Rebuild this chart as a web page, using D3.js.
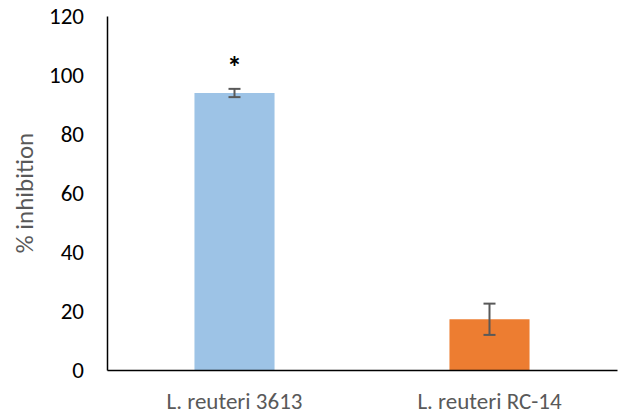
<!DOCTYPE html>
<html><head><meta charset="utf-8">
<script src="https://cdn.jsdelivr.net/npm/d3@7"></script>
<style>body{margin:0;background:#fff}svg{display:block}</style>
</head><body>
<svg id="c" width="621" height="414"></svg>
<script>
const categories = ["L. reuteri 3613", "L. reuteri RC-14"];
const values = [93.9, 17.2];
const errors = [1.4, 5.3];
const colors = ["#9DC3E6", "#ED7D31"];
const marks = ["*", ""];
const yTicks = [0, 20, 40, 60, 80, 100, 120];
const yTitle = "% inhibition";

const svg = d3.select("#c");
const font = "Carlito, Calibri, 'Open Sans', sans-serif";
const m = {l:107, r:4, t:16, b:44};
const W = 621, H = 414;
const x = d3.scaleBand().domain(categories).range([m.l, W - m.r]).paddingInner(0.686).paddingOuter(0.343);
const y = d3.scaleLinear().domain([0, 120]).range([H - m.b, m.t]);

svg.selectAll("rect.bar").data(categories).join("rect")
  .attr("x", d => x(d)).attr("width", x.bandwidth())
  .attr("y", (d,i) => y(values[i])).attr("height", (d,i) => y(0) - y(values[i]))
  .attr("fill", (d,i) => colors[i]);

const eg = svg.append("g").attr("stroke", "#595959").attr("stroke-width", 2);
categories.forEach((c,i) => {
  const cx = x(c) + x.bandwidth()/2;
  const hi = y(values[i] + errors[i]), lo = y(values[i] - errors[i]);
  eg.append("line").attr("x1", cx).attr("x2", cx).attr("y1", hi).attr("y2", lo);
  eg.append("line").attr("x1", cx-6).attr("x2", cx+6).attr("y1", hi).attr("y2", hi);
  eg.append("line").attr("x1", cx-6).attr("x2", cx+6).attr("y1", lo).attr("y2", lo);
  if (marks[i]) {
    svg.append("text").attr("x", cx).attr("y", y(values[i] + errors[i]) - 12)
      .attr("text-anchor", "middle").attr("font-family", font).attr("font-size", 30)
      .attr("font-weight", "bold").attr("fill", "#000").text(marks[i]);
  }
});

const ya = svg.append("g").attr("transform", `translate(${m.l},0)`)
  .call(d3.axisLeft(y).tickValues(yTicks).tickSize(0).tickPadding(23));
ya.select(".domain").attr("stroke", "#000").attr("stroke-width", 1.5);
ya.selectAll("text").attr("font-family", font).attr("font-size", 23).attr("fill", "#000");

const xa = svg.append("g").attr("transform", `translate(0,${y(0)})`)
  .call(d3.axisBottom(x).tickSize(0).tickPadding(23));
xa.select(".domain").attr("stroke", "#000").attr("stroke-width", 1.5);
xa.selectAll("text").attr("font-family", font).attr("font-size", 23).attr("fill", "#595959");

svg.append("text").attr("transform", `translate(33,${(y(0)+y(120))/2}) rotate(-90)`)
  .attr("text-anchor", "middle").attr("font-family", font).attr("font-size", 25)
  .attr("fill", "#595959").text(yTitle);
</script>
</body></html>
